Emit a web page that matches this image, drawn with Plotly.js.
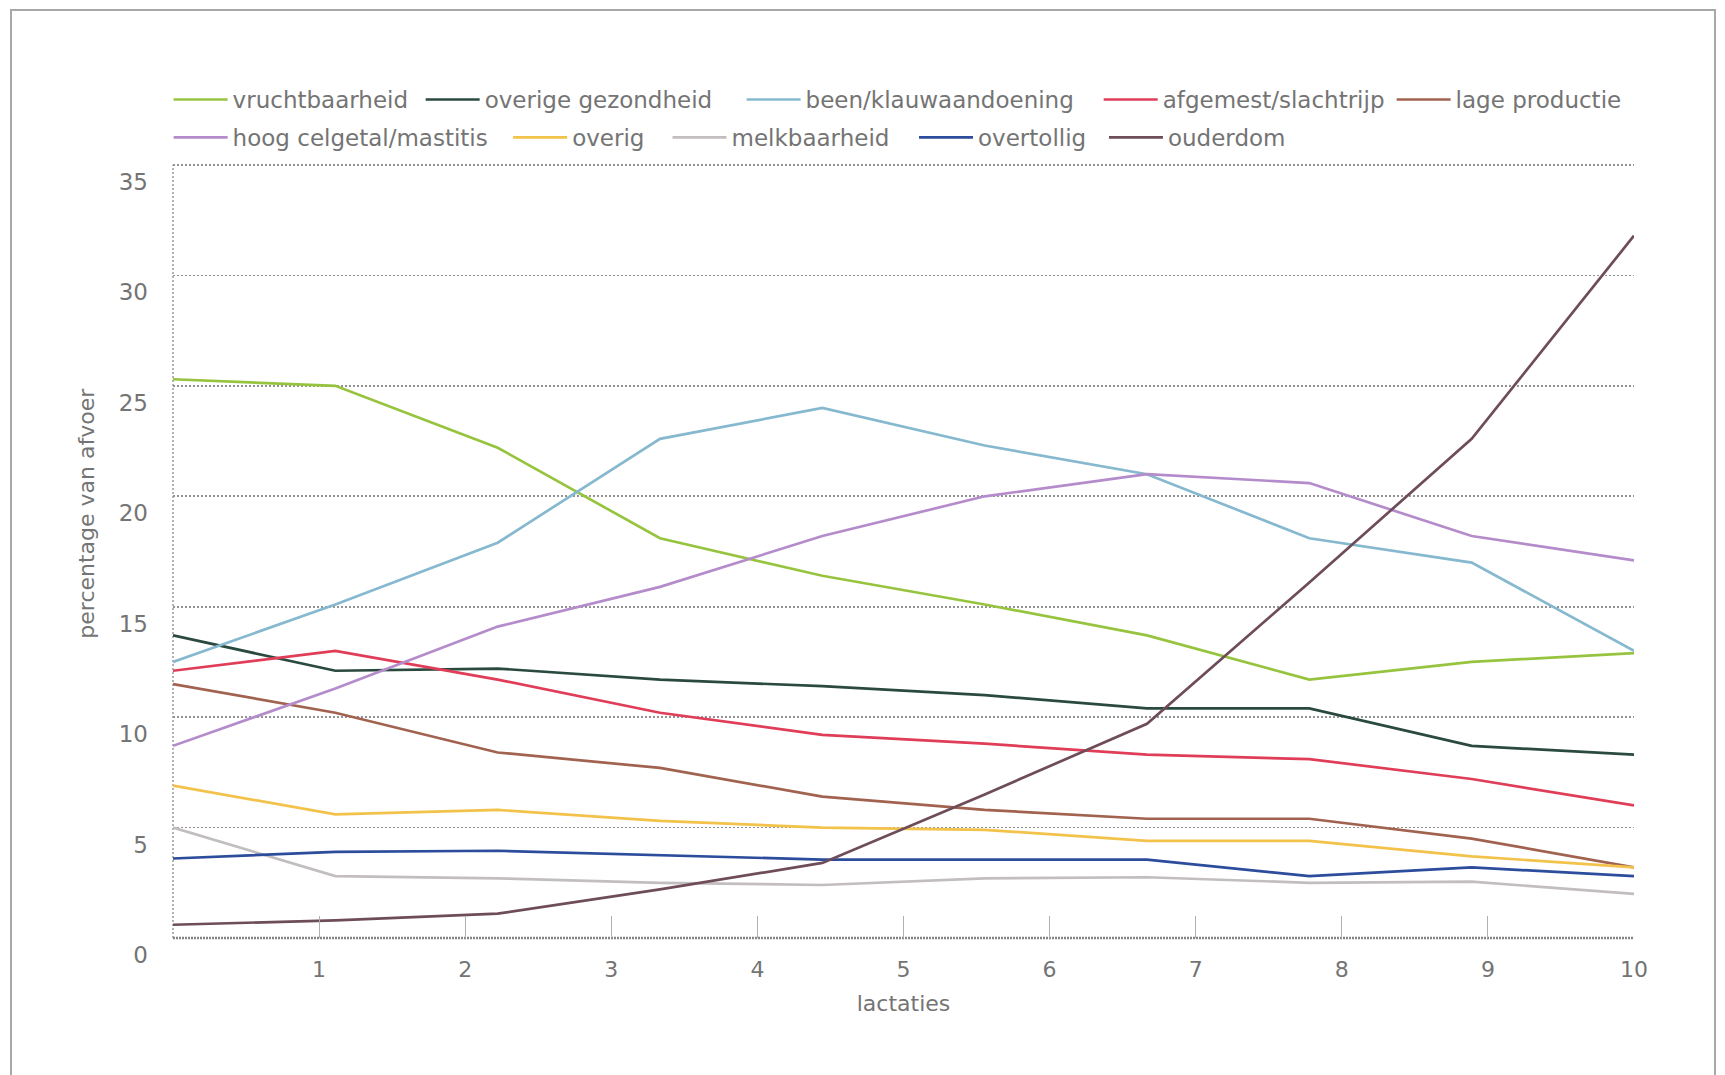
<!DOCTYPE html>
<html>
<head>
<meta charset="utf-8">
<script src="https://cdn.plot.ly/plotly-3.0.1.min.js"></script>
<style>
  html, body { margin: 0; padding: 0; background: #ffffff; width: 1725px; height: 1075px; overflow: hidden; }
  #frame { position: absolute; left: 10px; top: 9px; width: 1706px; height: 1100px;
           border: 2px solid #a8a8a8; border-bottom: none; box-sizing: border-box; }
  #chart { position: absolute; left: 0; top: 0; width: 1725px; height: 1075px; }
</style>
</head>
<body>
<div id="frame"></div>
<div id="chart"></div>
<script>
// ---- data ----
const lactaties = [1, 2, 3, 4, 5, 6, 7, 8, 9, 10];
const xTickVals = [1, 2, 3, 4, 5, 6, 7, 8, 9, 10];
const yTickVals = [0, 5, 10, 15, 20, 25, 30, 35];

const seriesNames = [
  'vruchtbaarheid', 'overige gezondheid', 'been/klauwaandoening', 'afgemest/slachtrijp', 'lage productie',
  'hoog celgetal/mastitis', 'overig', 'melkbaarheid', 'overtollig', 'ouderdom'
];
const vruchtbaarheid      = [25.3, 25.0, 22.2, 18.1, 16.4, 15.1, 13.7, 11.7, 12.5, 12.9];
const overigeGezondheid   = [13.7, 12.1, 12.2, 11.7, 11.4, 11.0, 10.4, 10.4, 8.7, 8.3];
const beenKlauw           = [12.5, 15.1, 17.9, 22.6, 24.0, 22.3, 21.0, 18.1, 17.0, 13.0];
const afgemestSlachtrijp  = [12.1, 13.0, 11.7, 10.2, 9.2, 8.8, 8.3, 8.1, 7.2, 6.0];
const lageProductie       = [11.5, 10.2, 8.4, 7.7, 6.4, 5.8, 5.4, 5.4, 4.5, 3.2];
const hoogCelgetal        = [8.7, 11.3, 14.1, 15.9, 18.2, 20.0, 21.0, 20.6, 18.2, 17.1];
const overig              = [6.9, 5.6, 5.8, 5.3, 5.0, 4.9, 4.4, 4.4, 3.7, 3.2];
const melkbaarheid        = [5.0, 2.8, 2.7, 2.5, 2.4, 2.7, 2.75, 2.5, 2.55, 2.0];
const overtollig          = [3.6, 3.9, 3.95, 3.75, 3.55, 3.55, 3.55, 2.8, 3.2, 2.8];
const ouderdom            = [0.6, 0.8, 1.1, 2.2, 3.4, 6.5, 9.7, 16.1, 22.6, 31.8];

const seriesValues = [vruchtbaarheid, overigeGezondheid, beenKlauw, afgemestSlachtrijp, lageProductie,
                      hoogCelgetal, overig, melkbaarheid, overtollig, ouderdom];
const seriesColors = ['#97c43f', '#2b4a3f', '#86b9cf', '#e03d58', '#a1634f',
                      '#b58ccb', '#f3c24a', '#c2bebe', '#2c4c9c', '#6e4c5a'];

// ---- legend placement (one legend box per entry, two rows as in the original) ----
const legendIds = ['legend', 'legend2', 'legend3', 'legend4', 'legend5',
                   'legend6', 'legend7', 'legend8', 'legend9', 'legend10'];
const legendX = [-0.003, 0.1695, 0.3892, 0.6336, 0.8341,
                 -0.003, 0.2294, 0.3385, 0.5072, 0.6372];
const legendY = [1.1125, 1.1125, 1.1125, 1.1125, 1.1125,
                 1.0634, 1.0634, 1.0634, 1.0634, 1.0634];

// ---- traces ----
const traces = seriesNames.map((name, i) => ({
  type: 'scatter',
  mode: 'lines',
  name: name,
  x: lactaties,
  y: seriesValues[i],
  xaxis: 'x2',
  yaxis: 'y',
  legend: legendIds[i],
  line: { color: seriesColors[i], width: 2.7 },
  hoverinfo: 'skip'
}));
// empty trace so the visible tick axis (x) is drawn
traces.push({ type: 'scatter', mode: 'lines', x: [], y: [], xaxis: 'x', yaxis: 'y',
              showlegend: false, hoverinfo: 'skip' });

const FONT = '"DejaVu Sans", "Open Sans", sans-serif';
const TXT = '#747474';

const legendBase = {
  orientation: 'h',
  xanchor: 'left',
  yanchor: 'top',
  font: { family: FONT, size: 23, color: TXT },
  itemwidth: 54,
  bgcolor: 'rgba(0,0,0,0)',
  traceorder: 'normal'
};

const gridStyle = { color: '#939393', width: 1.8, dash: '2px,2px' };

const layout = {
  width: 1725,
  height: 1075,
  paper_bgcolor: 'rgba(0,0,0,0)',
  plot_bgcolor: 'rgba(0,0,0,0)',
  margin: { l: 173, r: 91, t: 165, b: 137 },
  font: { family: FONT, size: 22, color: TXT },
  showlegend: true,
  xaxis: {
    range: [0, 10],
    tickmode: 'array',
    tickvals: xTickVals,
    ticks: 'inside',
    ticklen: 22,
    tickwidth: 1,
    tickcolor: '#b0b0b0',
    showgrid: false,
    zeroline: false,
    showline: false,
    tickfont: { family: FONT, size: 22, color: TXT },
    ticklabelstandoff: 16,
    title: { text: 'lactaties', font: { family: FONT, size: 22, color: TXT }, standoff: 14 },
    fixedrange: true
  },
  xaxis2: {
    range: [1, 10],
    overlaying: 'x',
    visible: false,
    fixedrange: true
  },
  yaxis: {
    range: [0, 35],
    tickmode: 'array',
    tickvals: yTickVals,
    showgrid: true,
    gridcolor: gridStyle.color,
    gridwidth: gridStyle.width,
    griddash: gridStyle.dash,
    zeroline: false,
    showline: false,
    ticks: '',
    tickfont: { family: FONT, size: 23, color: TXT },
    ticklabelstandoff: 24,
    ticklabelshift: 17,
    fixedrange: true
  },
  shapes: [
    { type: 'line', xref: 'paper', yref: 'paper', x0: 0, x1: 0, y0: 0, y1: 1,
      line: { color: '#9a9a9a', width: 1.5, dash: '2px,2px' }, layer: 'below' },
    { type: 'line', xref: 'paper', yref: 'paper', x0: 0, x1: 1, y0: 1, y1: 1,
      line: gridStyle, layer: 'below' },
    { type: 'line', xref: 'paper', yref: 'paper', x0: 0, x1: 1, y0: 0, y1: 0,
      line: { color: '#858585', width: 2.5, dash: '2px,1px' }, layer: 'below' }
  ],
  annotations: [
    { text: 'percentage van afvoer', xref: 'paper', yref: 'paper', x: -0.059, y: 0.55,
      xanchor: 'center', yanchor: 'middle', textangle: -90, showarrow: false,
      font: { family: FONT, size: 22, color: TXT } }
  ]
};
legendIds.forEach((id, i) => {
  layout[id] = Object.assign({}, legendBase, { x: legendX[i], y: legendY[i] });
});

Plotly.newPlot('chart', traces, layout, { displayModeBar: false, staticPlot: true });
</script>
</body>
</html>
